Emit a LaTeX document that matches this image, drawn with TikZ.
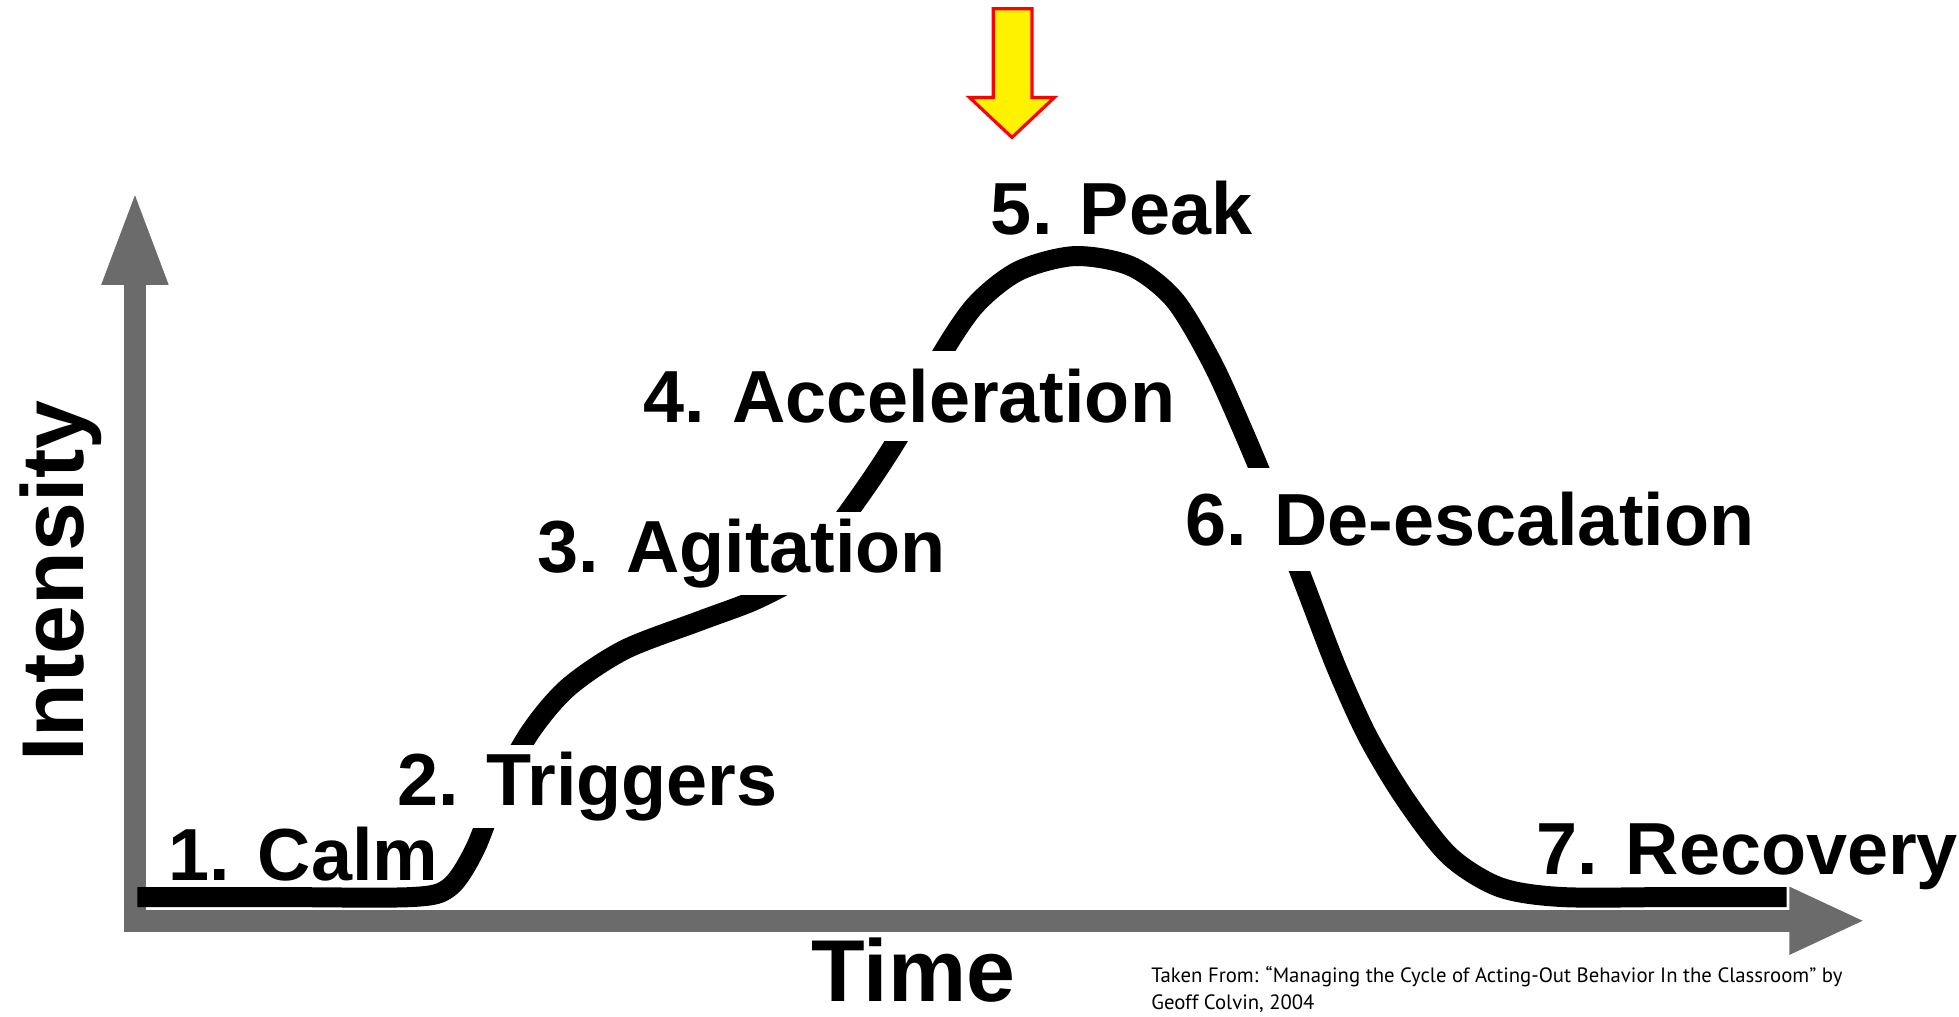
\documentclass[tikz,border=0pt]{standalone}
\usepackage{fontspec}
\setmainfont{Liberation Sans}
\newfontfamily\citefont{PT Sans}
\usetikzlibrary{arrows.meta}
\tikzset{
    stage/.style={
        font=\bfseries\fontsize{21}{25}\selectfont,
        anchor=base west,
        inner xsep=2pt,
        inner ysep=2pt
    },
    masked/.style={
        stage,
        fill=white
    },
    axislabel/.style={
        font=\bfseries\fontsize{25}{30}\selectfont,
        anchor=base,
        inner sep=0pt
    },
    axis/.style={
        draw=black!58,
        line width=2.2mm
    },
    curve/.style={
        line width=2mm,
        line join=round
    },
    pointer/.style={
        draw=red,
        fill=yellow,
        line width=0.9pt
    },
    source/.style={
        font=\citefont\fontsize{5.9}{7.6}\selectfont,
        anchor=north west,
        align=left,
        inner sep=0pt
    }
}

\begin{document}
\begin{tikzpicture}[x=0.0125cm, y=-0.0125cm]
\useasboundingbox (0,0) rectangle (1568,814);

\draw[axis, -{Triangle[width=6mm, length=9.5mm]}] (108,746) -- (108,152);
\draw[axis, -{Triangle[width=6.2mm, length=7.6mm]}] (99,737) -- (1493,737);

\draw[curve] plot[smooth, tension=0.5] coordinates {
    (110,718) (220,718) (330,718) (360,710) (380,680) (400,630)
    (425,585) (455,550) (500,520) (560,497) (605,480) (640,460)
    (668,425) (700,380) (725,340) (750,290) (780,245) (815,217)
    (860,205) (905,213) (940,240) (970,290) (995,345) (1020,405)
    (1045,470) (1070,535) (1095,590) (1125,640) (1160,685)
    (1200,710) (1250,718) (1340,718) (1430,718)};

\node[stage] (calm) at (129,705) {1. Calm};
\node[masked] (triggers) at (312,645) {2. Triggers};
\node[masked] (agitation) at (424,458) {3. Agitation};
\node[masked, inner xsep=3pt, inner ysep=5pt] (acceleration) at (506,338) {4. Acceleration};
\node[stage] (peak) at (787,188) {5. Peak};
\node[masked, inner xsep=3pt, inner ysep=7pt] (deescalation) at (940,437) {6. De-escalation};
\node[stage] (recovery) at (1224,700) {7. Recovery};

\node[axislabel, rotate=90] (intensity) at (67,465) {Intensity};
\node[axislabel] (time) at (731,802) {Time};

\node[source] (taken) at (921,773) {Taken From: “Managing the Cycle of Acting-Out Behavior In the Classroom” by\\Geoff Colvin, 2004};

\draw[pointer] (795,7) -- (826,7) -- (826,78) -- (844,78) -- (810,110)
    -- (776,78) -- (795,78) -- cycle;
\end{tikzpicture}
\end{document}
